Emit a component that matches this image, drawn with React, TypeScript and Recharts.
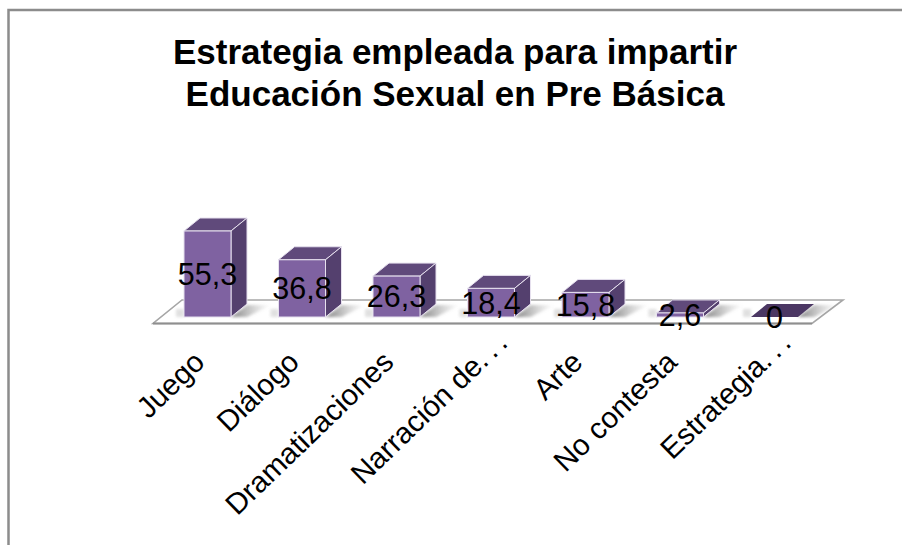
import React from "react";
import { BarChart, Bar, XAxis, YAxis, LabelList, usePlotArea } from "recharts";

const categories = ["Juego", "Diálogo", "Dramatizaciones", "Narración de…", "Arte", "No contesta", "Estrategia…"];
const values = [55.3, 36.8, 26.3, 18.4, 15.8, 2.6, 0];
const titleLines = ["Estrategia empleada para impartir", "Educación Sexual en Pre Básica"];
const data = categories.map((name, i) => ({ name, value: values[i] }));

const FONT = "'Liberation Sans', Arial, sans-serif";
const DX = 16;
const DY = 13;

function Backdrop() {
  const plot = usePlotArea();
  if (!plot) return null;
  const base = plot.y + plot.height;
  const l = plot.x;
  const r = plot.x + plot.width;
  return (
    <g>
      <defs>
        <linearGradient id="shadowGrad" x1="0" y1="0" x2="1" y2="0">
          <stop offset="0" stopColor="#555" stopOpacity="0.75" />
          <stop offset="1" stopColor="#999" stopOpacity="0" />
        </linearGradient>
        <filter id="soft" x="-30%" y="-30%" width="160%" height="160%">
          <feGaussianBlur stdDeviation="1.6" />
        </filter>
      </defs>
      <polyline points="902,10 8.5,10 8.5,545" fill="none" stroke="#8c8c8c" strokeWidth={2.5} />
      {titleLines.map((t, i) => (
        <text key={t} x={455} y={64 + i * 42} textAnchor="middle" fontFamily={FONT} fontWeight="bold" fontSize={35} fill="#000">
          {t}
        </text>
      ))}
      <polygon
        points={`${l - 7},${base + 6.5} ${r - 9.5},${base + 6.5} ${r + 21.5},${base - 17} ${l + 22},${base - 17}`}
        fill="#fff"
        stroke="#a6a6a6"
        strokeWidth={1.6}
      />
      <line x1={l - 7} y1={base + 6.5} x2={r - 9.5} y2={base + 6.5} stroke="#8f8f8f" strokeWidth={2} />
    </g>
  );
}

function Bar3D(props: any) {
  const { x, y, width, height } = props;
  const b = y + height;
  const tiny = height < 1;
  const front = "#7f62a1";
  const top = tiny ? "#4b3763" : "#604a7b";
  const side = "#54406e";
  const edge = tiny ? "none" : "#e6e0ee";
  return (
    <g>
      <polygon
        points={`${x + width},${b} ${x + width + DX},${b - DY + 1} ${x + width + 40},${b - DY + 1} ${x + width + 16},${b}`}
        fill="url(#shadowGrad)"
        filter="url(#soft)"
      />
      <rect x={x - 8} y={b - 8} width={8} height={8} fill="#bbb" opacity={0.45} filter="url(#soft)" />
      <polygon points={`${x},${y} ${x + width},${y} ${x + width + DX},${y - DY} ${x + DX},${y - DY}`} fill={top} stroke={edge} strokeWidth={1} />
      <polygon points={`${x + width},${y} ${x + width + DX},${y - DY} ${x + width + DX},${b - DY} ${x + width},${b}`} fill={side} stroke={edge} strokeWidth={1} />
      <rect x={x} y={y} width={width} height={height} fill={front} stroke={edge} strokeWidth={1} />
    </g>
  );
}

function Tick(props: any) {
  const { x, y, payload } = props;
  const label = String(payload.value);
  const cut = label.endsWith("…");
  const shift = cut ? 23 : 0;
  return (
    <text
      x={0}
      y={0}
      transform={`translate(${x - 1 + shift},${y + 39 - shift}) rotate(-44)`}
      textAnchor="end"
      fontFamily={FONT}
      fontSize={29.5}
      fill="#000"
    >
      {cut ? label.slice(0, -1) : label}
      {cut ? <tspan letterSpacing={5}>...</tspan> : null}
    </text>
  );
}

export default function App() {
  return (
    <div style={{ position: "absolute", left: 0, top: 0 }}>
      <BarChart
        width={902}
        height={545}
        data={data}
        margin={{ top: 223.7, right: 80.5, bottom: 0, left: 160 }}
        barCategoryGap={47.5}
      >
        <Backdrop />
        <YAxis hide domain={[0, 60]} />
        <XAxis
          dataKey="name"
          axisLine={false}
          tickLine={false}
          interval={0}
          height={228}
          tick={<Tick />}
        />
        <Bar dataKey="value" isAnimationActive={false} barSize={47} shape={<Bar3D />}>
          <LabelList
            dataKey="value"
            position="center"
            formatter={(v: any) => String(v).replace(".", ",")}
            style={{ fontFamily: FONT, fontSize: 30.5, fill: "#000" }}
          />
        </Bar>
      </BarChart>
    </div>
  );
}
